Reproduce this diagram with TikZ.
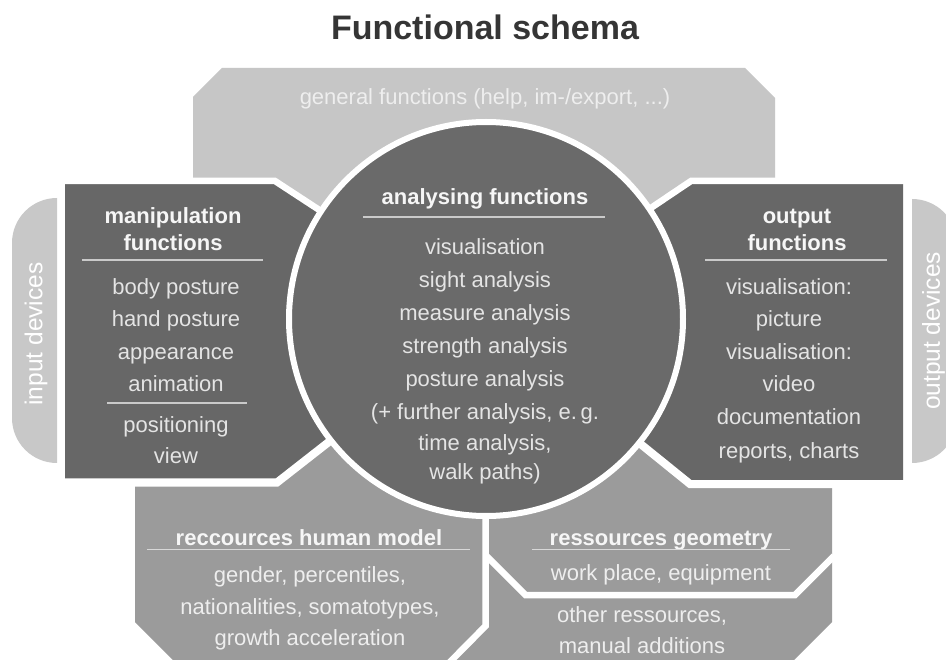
\documentclass[tikz,border=0pt]{standalone}
\usepackage{fontspec}
\setmainfont{Liberation Sans}
\definecolor{genfill}{HTML}{C6C6C6}
\definecolor{darkfill}{HTML}{676767}
\definecolor{circfill}{HTML}{6A6A6A}
\definecolor{resfill}{HTML}{9B9B9B}
\definecolor{tabfill}{HTML}{C8C8C8}
\definecolor{lighttxt}{HTML}{E4E4E4}
\definecolor{headtxt}{HTML}{F6F6F6}
\definecolor{gentxt}{HTML}{EEEEEE}
\definecolor{ruledark}{HTML}{CACACA}
\definecolor{rulelight}{HTML}{D8D8D8}
\definecolor{titletxt}{HTML}{353535}
\tikzset{
  gapline/.style={white, line width=6.5pt, line join=miter},
  gapwide/.style={white, line width=8pt, line join=miter},
  body/.style={anchor=base, inner sep=0pt, text=lighttxt, font=\fontsize{22}{26}\selectfont},
  head/.style={anchor=base, inner sep=0pt, text=headtxt, font=\fontsize{22}{26}\selectfont\bfseries},
  underdark/.style={draw=ruledark, line width=1.8pt},
  underlight/.style={draw=rulelight, line width=1.8pt},
  tabtxt/.style={rotate=90, inner sep=0pt, text=white, font=\fontsize{24.5}{29}\selectfont},
}
\begin{document}
\begin{tikzpicture}[x=1pt,y=-1pt]
\useasboundingbox (0,0) rectangle (946,660);
\clip (0,0) rectangle (946,660);
\fill[white] (0,0) rectangle (946,660);

% title
\node[anchor=base, inner sep=0pt, text=titletxt, font=\fontsize{34}{40}\selectfont\bfseries] (title) at (485,40) {Functional schema};

% surrounding shapes
\fill[genfill] (222,68) -- (745,68) -- (775,98) -- (775,181) -- (691,181) -- (486,319) -- (275,181) -- (193,181) -- (193,97) -- cycle;
\fill[darkfill] (65,181) -- (275,181) -- (486,319) -- (277,482.5) -- (65,482.5) -- cycle;
\fill[darkfill] (691,181) -- (903,181) -- (903,484) -- (690,484) -- (486,319) -- cycle;
\fill[resfill] (135,482.5) -- (277,482.5) -- (486,319) -- (486,626) -- (447,665) -- (178,665) -- (135,622) -- cycle;
\fill[resfill] (486,319) -- (690,484) -- (832,484) -- (832,622) -- (789,665) -- (447,665) -- (486,626) -- cycle;

% white gaps
\draw[gapline] (55,181) -- (275,181) -- (486,319);
\draw[gapline] (486,319) -- (691,181) -- (915,181);
\draw[gapwide] (55,482.5) -- (277,482.5) -- (486,319);
\draw[gapwide] (486,319) -- (690,484) -- (915,484);
\draw[gapline] (485.5,319) -- (485.5,626) -- (446,666);
\draw[gapline] (485.5,555) -- (525.5,595) -- (795,595) -- (834,556);

% device tabs
\begin{scope}
  \clip (0,190) rectangle (57,470);
  \fill[tabfill, rounded corners=45pt] (12,198) rectangle (130,463);
\end{scope}
\begin{scope}
  \clip (912,190) rectangle (946,470);
  \fill[tabfill, rounded corners=45pt] (840,199) rectangle (957,463);
\end{scope}
\node[tabtxt] (indev) at (36,334) {input devices};
\node[tabtxt] (outdev) at (933.5,331) {output devices};

% central circle
\draw[white, line width=6pt, fill=circfill] (486,319) circle[radius=197pt];

% general functions
\node[body, text=gentxt] (gen) at (485,105) {general functions (help, im-/export, ...)};

% analysing functions
\node[head] (ah) at (485,205) {analysing functions};
\draw[underdark] (363,217) -- (605,217);
\node[body] (a1) at (485,255) {visualisation};
\node[body] (a2) at (485,288) {sight analysis};
\node[body] (a3) at (485,321) {measure analysis};
\node[body] (a4) at (485,354) {strength analysis};
\node[body] (a5) at (485,387) {posture analysis};
\node[body] (a6) at (485,420) {(+ further analysis, e.\,g.};
\node[body] (a7) at (485,450) {time analysis,};
\node[body] (a8) at (485,479) {walk paths)};

% manipulation functions
\node[head] (mh1) at (173,224) {manipulation};
\node[head] (mh2) at (173,251) {functions};
\draw[underdark] (82,260) -- (263,260);
\node[body] (m1) at (176,295) {body posture};
\node[body] (m2) at (176,327) {hand posture};
\node[body] (m3) at (176,360) {appearance};
\node[body] (m4) at (176,392) {animation};
\draw[underdark] (107,403) -- (247,403);
\node[body] (m5) at (176,432) {positioning};
\node[body] (m6) at (176,464) {view};

% output functions
\node[head] (oh1) at (797,224) {output};
\node[head] (oh2) at (797,251) {functions};
\draw[underdark] (705,260) -- (887,260);
\node[body] (o1) at (789,295) {visualisation:};
\node[body] (o2) at (789,327) {picture};
\node[body] (o3) at (789,360) {visualisation:};
\node[body] (o4) at (789,392) {video};
\node[body] (o5) at (789,425) {documentation};
\node[body] (o6) at (789,458) {reports, charts};

% human model resources
\node[head] (hh) at (309,545) {reccources human model};
\draw[underlight] (147,549.5) -- (470,549.5);
\node[body, text=gentxt] (h1) at (310,582) {gender, percentiles,};
\node[body, text=gentxt] (h2) at (310,614) {nationalities, somatotypes,};
\node[body, text=gentxt] (h3) at (310,645) {growth acceleration};

% geometry resources
\node[head] (rh) at (661,545) {ressources geometry};
\draw[underlight] (532,549.5) -- (790,549.5);
\node[body, text=gentxt] (r1) at (661,580) {work place, equipment};
\node[body, text=gentxt] (r2) at (642,622) {other ressources,};
\node[body, text=gentxt] (r3) at (642,653) {manual additions};
\end{tikzpicture}
\end{document}
